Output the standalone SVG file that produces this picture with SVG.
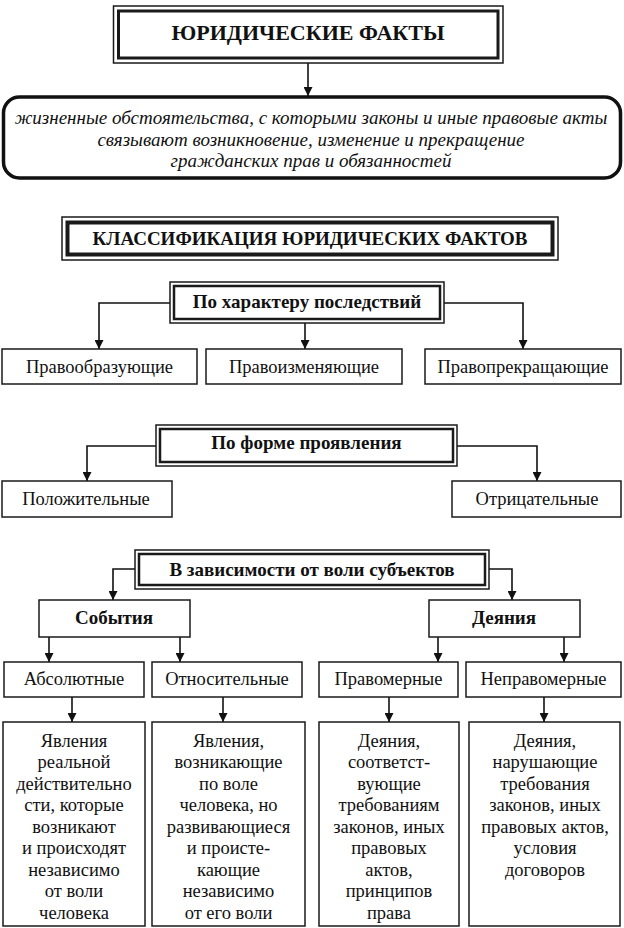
<svg xmlns="http://www.w3.org/2000/svg" width="624" height="928" viewBox="0 0 624 928" font-family="'Liberation Serif', 'Times New Roman', 'DejaVu Serif', serif">
<defs>
<marker id="arr" viewBox="0 0 10 10" refX="10" refY="5" markerWidth="9" markerHeight="9" markerUnits="userSpaceOnUse" orient="auto">
<path d="M0,0 L10,5 L0,10 z" fill="#111"/>
</marker>
</defs>
<style>
.bx{fill:#fff;stroke:#1a1a1a;stroke-width:1.5}
.o{fill:#fff;stroke:#1a1a1a;stroke-width:1.5}
.i{fill:none;stroke:#1a1a1a;stroke-width:2.5}
.i4{fill:none;stroke:#1a1a1a;stroke-width:4}
.rb{fill:#fff;stroke:#111;stroke-width:3.5}
text{font-family:'Liberation Serif','Times New Roman','DejaVu Serif',serif;fill:#111;text-anchor:middle}
.b{font-weight:bold;font-size:19px}
.r{font-size:18.5px}
.it{font-style:italic;font-size:19px}
.c{fill:none;stroke:#111;stroke-width:1.6;marker-end:url(#arr)}
</style>
<rect width="624" height="928" fill="#fff"/>

<g id="connectors">
<path class="c" d="M308,63 V96"/>
<path class="c" d="M170,303 H99 V349"/>
<path class="c" d="M305,323 V349"/>
<path class="c" d="M444,303 H523 V349"/>
<path class="c" d="M156,446 H87 V481"/>
<path class="c" d="M457,446 H537 V481"/>
<path class="c" d="M135,569 H113 V600"/>
<path class="c" d="M489,569 H512 V600"/>
<path class="c" d="M49,637 V662"/>
<path class="c" d="M180,637 V662"/>
<path class="c" d="M438,637 V662"/>
<path class="c" d="M564,637 V662"/>
<path class="c" d="M72,697 V722"/>
<path class="c" d="M223,697 V722"/>
<path class="c" d="M389,697 V722"/>
<path class="c" d="M544,697 V722"/>
</g>

<g id="title">
<rect class="o" x="113.5" y="6" width="389.5" height="57"/>
<rect x="118.5" y="11" width="379.5" height="47" fill="none" stroke="#1a1a1a" stroke-width="3"/>
<text x="308" y="40" font-family="'Liberation Serif', 'Times New Roman', serif" font-weight="bold" font-size="22">ЮРИДИЧЕСКИЕ ФАКТЫ</text>
</g>

<g id="definition">
<rect class="rb" x="3.5" y="97" width="617" height="81" rx="16"/>
<text class="it" x="311" y="124">жизненные обстоятельства, с которыми законы и иные правовые акты</text>
<text class="it" x="311" y="146">связывают возникновение, изменение и прекращение</text>
<text class="it" x="311" y="167">гражданских прав и обязанностей</text>
</g>

<g id="classification">
<rect class="o" x="62" y="217" width="496" height="43"/>
<rect class="i4" x="67.5" y="222.5" width="485" height="32"/>
<text class="b" x="310" y="245">КЛАССИФИКАЦИЯ ЮРИДИЧЕСКИХ ФАКТОВ</text>
</g>

<g id="po-harakteru">
<rect class="o" x="170" y="282" width="274" height="41"/>
<rect class="i" x="174" y="286" width="266" height="33"/>
<text class="b" x="307" y="308">По характеру последствий</text>
</g>

<g id="pravoobrazuyushchie">
<rect class="bx" x="2" y="349" width="195" height="35"/>
<text class="r" x="99.5" y="373">Правообразующие</text>
</g>
<g id="pravoizmenyayushchie">
<rect class="bx" x="206" y="349" width="196" height="35"/>
<text class="r" x="304" y="373">Правоизменяющие</text>
</g>
<g id="pravoprekrashchayushchie">
<rect class="bx" x="425" y="349" width="196" height="35"/>
<text class="r" x="523" y="373">Правопрекращающие</text>
</g>

<g id="po-forme">
<rect class="o" x="156" y="425" width="301" height="41"/>
<rect class="i" x="160" y="429" width="293" height="33"/>
<text class="b" x="306.5" y="449">По форме проявления</text>
</g>

<g id="polozhitelnye">
<rect class="bx" x="2" y="481" width="170" height="36"/>
<text class="r" x="86" y="505">Положительные</text>
</g>
<g id="otritsatelnye">
<rect class="bx" x="452" y="481" width="169" height="36"/>
<text class="r" x="537" y="505">Отрицательные</text>
</g>

<g id="po-vole">
<rect class="o" x="135" y="550" width="354" height="39"/>
<rect class="i" x="139" y="554" width="346" height="31"/>
<text class="b" x="312" y="576">В зависимости от воли субъектов</text>
</g>

<g id="sobytiya">
<rect class="bx" x="39" y="600" width="151" height="37"/>
<text class="b" x="114" y="624">События</text>
</g>
<g id="deyaniya">
<rect class="bx" x="429" y="600" width="151" height="37"/>
<text class="b" x="504" y="624">Деяния</text>
</g>

<g id="absolyutnye">
<rect class="bx" x="4" y="662" width="140" height="35"/>
<text class="r" x="74" y="685">Абсолютные</text>
</g>
<g id="otnositelnye">
<rect class="bx" x="152" y="662" width="150" height="35"/>
<text class="r" x="227" y="685">Относительные</text>
</g>
<g id="pravomernye">
<rect class="bx" x="319" y="662" width="139" height="35"/>
<text class="r" x="388.5" y="685">Правомерные</text>
</g>
<g id="nepravomernye">
<rect class="bx" x="466" y="662" width="155" height="35"/>
<text class="r" x="543.5" y="685">Неправомерные</text>
</g>

<g id="absolyutnye-desc">
<rect class="bx" x="3" y="722" width="142" height="204"/>
<text class="r" y="746.5"><tspan x="74">Явления</tspan><tspan x="74" dy="21.5">реальной</tspan><tspan x="74" dy="21.5">действительно</tspan><tspan x="74" dy="21.5">сти, которые</tspan><tspan x="74" dy="21.5">возникают</tspan><tspan x="74" dy="21.5">и происходят</tspan><tspan x="74" dy="21.5">независимо</tspan><tspan x="74" dy="21.5">от воли</tspan><tspan x="74" dy="21.5">человека</tspan></text>
</g>
<g id="otnositelnye-desc">
<rect class="bx" x="152" y="722" width="153" height="204"/>
<text class="r" y="746.5"><tspan x="228.5">Явления,</tspan><tspan x="228.5" dy="21.5">возникающие</tspan><tspan x="228.5" dy="21.5">по воле</tspan><tspan x="228.5" dy="21.5">человека, но</tspan><tspan x="228.5" dy="21.5">развивающиеся</tspan><tspan x="228.5" dy="21.5">и происте-</tspan><tspan x="228.5" dy="21.5">кающие</tspan><tspan x="228.5" dy="21.5">независимо</tspan><tspan x="228.5" dy="21.5">от его воли</tspan></text>
</g>
<g id="pravomernye-desc">
<rect class="bx" x="319" y="722" width="140" height="204"/>
<text class="r" y="746.5"><tspan x="389">Деяния,</tspan><tspan x="389" dy="21.5">соответст-</tspan><tspan x="389" dy="21.5">вующие</tspan><tspan x="389" dy="21.5">требованиям</tspan><tspan x="389" dy="21.5">законов, иных</tspan><tspan x="389" dy="21.5">правовых</tspan><tspan x="389" dy="21.5">актов,</tspan><tspan x="389" dy="21.5">принципов</tspan><tspan x="389" dy="21.5">права</tspan></text>
</g>
<g id="nepravomernye-desc">
<rect class="bx" x="469" y="722" width="151" height="204"/>
<text class="r" y="746.5"><tspan x="545">Деяния,</tspan><tspan x="545" dy="21.5">нарушающие</tspan><tspan x="545" dy="21.5">требования</tspan><tspan x="545" dy="21.5">законов, иных</tspan><tspan x="545" dy="21.5">правовых актов,</tspan><tspan x="545" dy="21.5">условия</tspan><tspan x="545" dy="21.5">договоров</tspan></text>
</g>
</svg>
